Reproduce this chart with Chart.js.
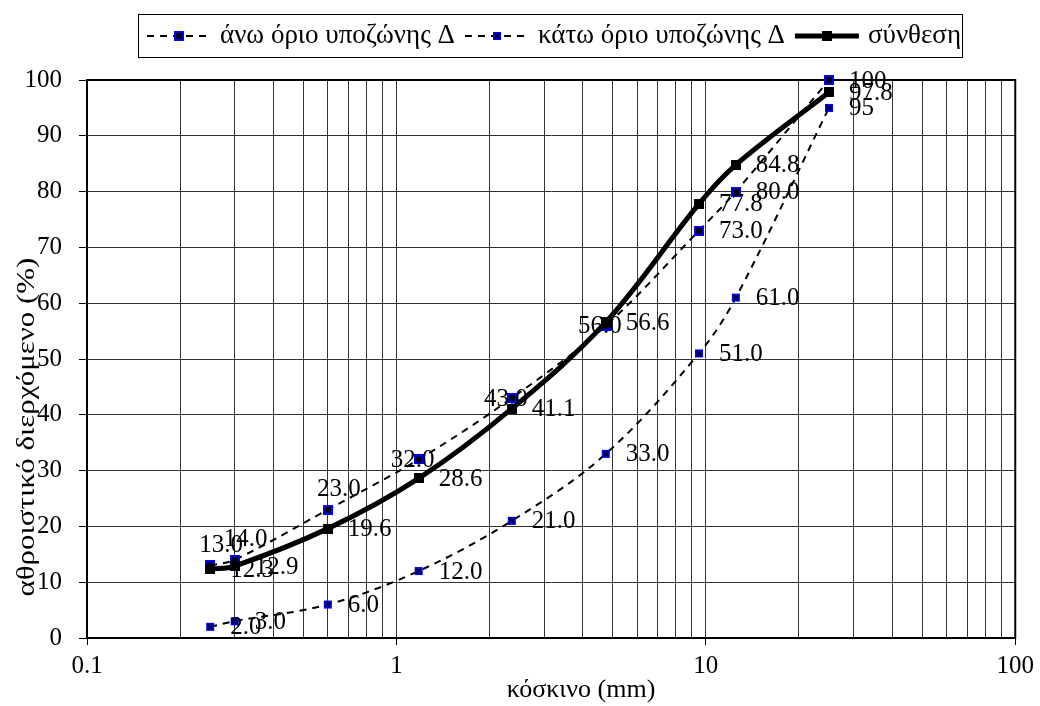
<!DOCTYPE html>
<html>
<head>
<meta charset="utf-8">
<script src="https://cdn.jsdelivr.net/npm/chart.js@4.4.1/dist/chart.umd.min.js"></script>
<style>
  body { margin: 0; background: #fff; }
  canvas { display: block; }
</style>
</head>
<body>
<canvas id="gradingChart" width="1040" height="706"></canvas>
<script>
// sieve sizes (mm) and cumulative passing (%)
const sieves = [0.25, 0.3, 0.6, 1.18, 2.36, 4.75, 9.5, 12.5, 25];
const upperLimit = [13, 14, 23, 32, 43, 56, 73, 80, 100];
const lowerLimit = [2, 3, 6, 12, 21, 33, 51, 61, 95];
const blend = [12.3, 12.9, 19.6, 28.6, 41.1, 56.6, 77.8, 84.8, 97.8];
const seriesNames = ['άνω όριο υποζώνης Δ', 'κάτω όριο υποζώνης Δ', 'σύνθεση'];
const xTickLabels = [0.1, 1, 10, 100];

const FONT = "'Liberation Serif', 'Times New Roman', serif";
Chart.defaults.font.family = FONT;
Chart.defaults.color = '#000';

// marker images
function makeMarker(kind) {
	const c = document.createElement('canvas');
	c.width = 10;
	c.height = 10;
	const g = c.getContext('2d');
	if (kind === 'upper') {
		g.fillStyle = '#0000ff';
		g.fillRect(0, 0, 10, 10);
		g.fillStyle = '#000';
		g.fillRect(2, 2, 6, 6);
	} else if (kind === 'lower') {
		g.fillStyle = '#0000ff';
		g.fillRect(1, 1, 8, 8);
		g.strokeStyle = '#000';
		g.lineWidth = 1.5;
		g.beginPath();
		g.moveTo(2.5, 2.5); g.lineTo(7.5, 7.5);
		g.moveTo(7.5, 2.5); g.lineTo(2.5, 7.5);
		g.stroke();
	} else {
		g.fillStyle = '#000';
		g.fillRect(0, 0, 10, 10);
	}
	return c;
}

const toPoints = (vals) => sieves.map((s, i) => ({x: s, y: vals[i]}));

// where each data label sits relative to its point
const labelPlacement = [
	['above', 'above', 'above', 'center', 'center', 'center', 'right', 'right', 'right'],
	['right', 'right', 'right', 'right', 'right', 'right', 'right', 'right', 'right'],
	['right', 'right', 'right', 'right', 'right', 'right', 'right', 'right', 'right'],
];

const fmt = (v) => (Number.isInteger(v) && v >= 95) ? String(v) : v.toFixed(1);

const gradingPlugin = {
	id: 'grading',
	beforeDatasetsDraw(chart) {
		// plot area frame
		const {ctx, chartArea: a} = chart;
		ctx.save();
		ctx.strokeStyle = '#000';
		ctx.lineWidth = 2;
		ctx.strokeRect(a.left, a.top, a.right - a.left, a.bottom - a.top);
		ctx.restore();
	},
	afterDatasetsDraw(chart) {
		const ctx = chart.ctx;
		ctx.save();
		ctx.font = '25px ' + FONT;
		ctx.fillStyle = '#000';
		ctx.textBaseline = 'middle';
		chart.data.datasets.forEach((ds, di) => {
			const meta = chart.getDatasetMeta(di);
			meta.data.forEach((pt, i) => {
				const txt = fmt(ds.data[i].y);
				const pos = labelPlacement[ds.labelRow][i];
				if (pos === 'above') {
					ctx.textAlign = 'center';
					ctx.fillText(txt, pt.x + 11, pt.y - 20);
				} else if (pos === 'center') {
					ctx.textAlign = 'center';
					ctx.fillText(txt, pt.x - 6, pt.y + 1);
				} else {
					ctx.textAlign = 'left';
					ctx.fillText(txt, pt.x + 20, pt.y + 1);
				}
			});
		});
		ctx.restore();
	},
	afterDraw(chart) {
		const ctx = chart.ctx;
		ctx.save();
		// legend box
		ctx.strokeStyle = '#000';
		ctx.lineWidth = 1;
		ctx.strokeRect(138.5, 14.5, 824, 43);
		ctx.font = '27px ' + FONT;
		ctx.textBaseline = 'middle';
		ctx.textAlign = 'left';
		ctx.fillStyle = '#000';
		let x = 147;
		const cy = 36;
		chart.data.datasets.slice().sort((a, b) => a.labelRow - b.labelRow).forEach((ds) => {
			ctx.save();
			ctx.strokeStyle = '#000';
			ctx.lineWidth = ds.borderWidth;
			ctx.setLineDash(ds.borderDash || []);
			ctx.beginPath();
			ctx.moveTo(x, cy);
			ctx.lineTo(x + 64, cy);
			ctx.stroke();
			ctx.restore();
			const img = ds.pointStyle;
			ctx.drawImage(img, x + 32 - img.width / 2, cy - img.height / 2);
			ctx.fillText(ds.label, x + 73, cy);
			x += 73 + ctx.measureText(ds.label).width + 10;
		});
		// axis titles
		ctx.textAlign = 'center';
		ctx.font = '26px ' + FONT;
		ctx.fillText('κόσκινο (mm)', 581, 690);
		ctx.translate(27, 427);
		ctx.rotate(-Math.PI / 2);
		ctx.scale(1.19, 1);
		ctx.font = '26px ' + FONT;
		ctx.fillText('αθροιστικό διερχόμενο (%)', 0, 0);
		ctx.restore();
	}
};

new Chart(document.getElementById('gradingChart'), {
	type: 'line',
	data: {
		datasets: [
			{
				label: seriesNames[2],
				labelRow: 2,
				data: toPoints(blend),
				borderColor: '#000',
				borderWidth: 5,
				pointStyle: makeMarker('blend'),
				order: 0,
			},
			{
				label: seriesNames[0],
				labelRow: 0,
				data: toPoints(upperLimit),
				borderColor: '#000',
				borderWidth: 2,
				borderDash: [7, 6],
				pointStyle: makeMarker('upper'),
				order: 1,
			},
			{
				label: seriesNames[1],
				labelRow: 1,
				data: toPoints(lowerLimit),
				borderColor: '#000',
				borderWidth: 2,
				borderDash: [7, 6],
				pointStyle: makeMarker('lower'),
				order: 2,
			},
		],
	},
	options: {
		responsive: false,
		animation: false,
		clip: false,
		elements: {
			line: {tension: 0.35, fill: false},
			point: {radius: 5, hoverRadius: 5},
		},
		layout: {padding: {top: 80, right: 22, left: 0, bottom: 0}},
		plugins: {
			legend: {display: false},
			tooltip: {enabled: false},
		},
		scales: {
			x: {
				type: 'logarithmic',
				min: 0.1,
				max: 100,
				afterBuildTicks(scale) {
					const ticks = [];
					[0.1, 1, 10].forEach((d) => {
						for (let k = 1; k <= 9; k++) ticks.push({value: k * d});
					});
					ticks.push({value: 100});
					scale.ticks = ticks;
				},
				afterFit(scale) { scale.height = 68; },
				ticks: {
					autoSkip: false,
					maxRotation: 0,
					padding: 6,
					font: {size: 25},
					callback: (v) => xTickLabels.includes(v) ? String(v) : '',
				},
				grid: {
					color: '#333',
					lineWidth: 1,
					tickLength: 7,
					tickColor: (c) => (c.tick && xTickLabels.includes(c.tick.value)) ? '#000' : 'rgba(0,0,0,0)',
				},
				border: {color: '#000', width: 2},
			},
			y: {
				min: 0,
				max: 100,
				afterFit(scale) { scale.width = 87; },
				ticks: {stepSize: 10, padding: 17, font: {size: 25}},
				grid: {color: '#333', lineWidth: 1, tickLength: 8, tickColor: '#000'},
				border: {color: '#000', width: 2},
			},
		},
	},
	plugins: [gradingPlugin],
});
</script>
</body>
</html>
